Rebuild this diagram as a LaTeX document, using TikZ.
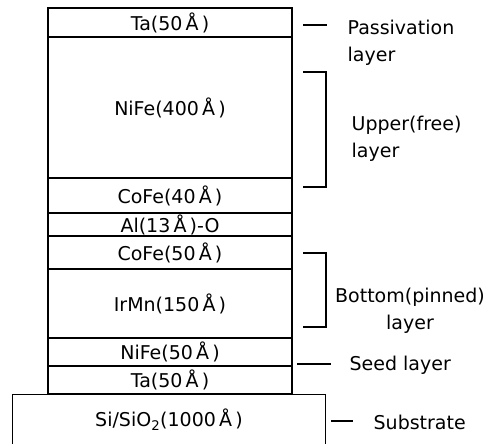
\documentclass[tikz,border=0pt]{standalone}
\usepackage{fontspec}
\setmainfont{DejaVu Sans}
\usepackage{tikz}
\usetikzlibrary{positioning}

\begin{document}
\begin{tikzpicture}[x=1pt, y=-1pt, line width=1.3pt,
    layer/.style={draw, minimum width=244pt, inner sep=0pt, font=\fontsize{19}{22}\selectfont},
    lbl/.style={inner sep=0pt, font=\fontsize{19}{27}\selectfont}]
    \useasboundingbox (0,0) rectangle (491,444);

    % Layer stack (top to bottom)
    \node[layer, minimum height=29pt]  (ta1)  at (170, 22.5)  {Ta(50\,Å\,)};
    \node[layer, minimum height=141pt] (nife1) at (170, 107.5) {NiFe(400\,Å\,)};
    \node[layer, minimum height=35pt]  (cofe1) at (170, 195.5) {CoFe(40\,Å\,)};
    \node[layer, minimum height=23pt]  (alo)  at (170, 224.5) {Al(13\,Å\,)-O};
    \node[layer, minimum height=33pt]  (cofe2) at (170, 252.5) {CoFe(50\,Å\,)};
    \node[layer, minimum height=69pt]  (irmn) at (170, 303.5) {IrMn(150\,Å\,)};
    \node[layer, minimum height=28pt]  (nife2) at (170, 352)   {NiFe(50\,Å\,)};
    \node[layer, minimum height=28pt]  (ta2)  at (170, 380)   {Ta(50\,Å\,)};

    % Substrate, open at the bottom
    \node[inner sep=0pt, minimum width=312pt, minimum height=49pt,
          font=\fontsize{19}{22}\selectfont] (sub) at (169, 419.5) {Si/SiO\textsubscript{2}(1000\,Å\,)};
    \draw (sub.south west) |- (sub.north east) -- (sub.south east);

    % Passivation layer
    \draw (303,25) -- (327,25);
    \node[lbl, align=left, anchor=north west] (pass) at (347,19) {Passivation\\layer};

    % Upper (free) layer bracket
    \draw (303,72) -- (326,72) -- (326,187) -- (303,187);
    \node[lbl, align=left, anchor=west] (upper) at (351,139) {Upper(free)\\layer};

    % Bottom (pinned) layer bracket
    \draw (303,253) -- (326,253) -- (326,327) -- (303,327);
    \node[lbl, align=center] (bottom) at (410,311) {Bottom(pinned)\\layer};

    % Seed layer
    \draw (297,364) -- (331,364);
    \node[lbl, anchor=west] (seed) at (349,365) {Seed layer};

    % Substrate
    \draw (331,421) -- (353,421);
    \node[lbl, anchor=west] (subl) at (373,422) {Substrate};
\end{tikzpicture}
\end{document}
